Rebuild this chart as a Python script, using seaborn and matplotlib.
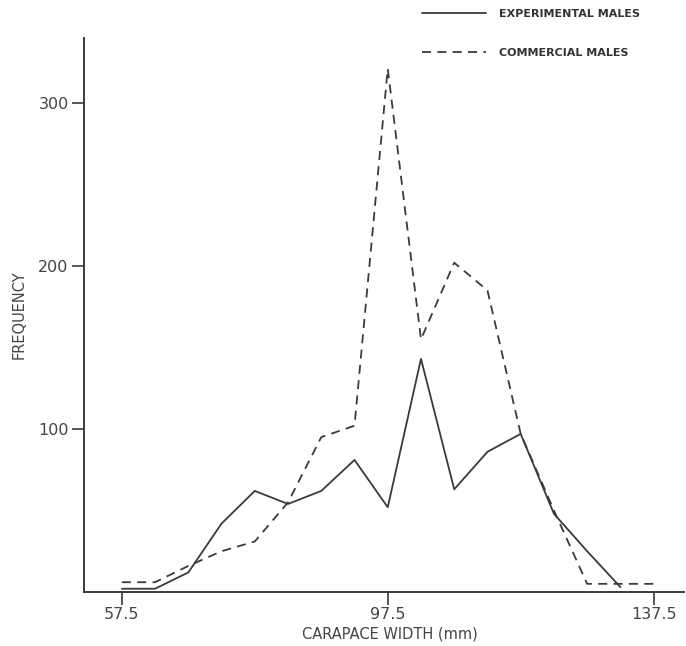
import numpy as np
import pandas as pd
import matplotlib
matplotlib.use('Agg')
import matplotlib.pyplot as plt
import seaborn as sns

# carapace width class midpoints (mm)
widths_exp = [57.5, 62.5, 67.5, 72.5, 77.5, 82.5, 87.5, 92.5, 97.5,
              102.5, 107.5, 112.5, 117.5, 122.5, 127.5, 132.5]
widths_com = [57.5, 62.5, 67.5, 72.5, 77.5, 82.5, 87.5, 92.5, 97.5,
              102.5, 107.5, 112.5, 117.5, 122.5, 127.5, 132.5, 137.5]

# frequencies
freq_exp = [2, 2, 12, 42, 62, 54, 62, 81, 52, 143, 63, 86, 97, 48, 25, 3]
freq_com = [6, 6, 16, 25, 31, 55, 95, 102, 321, 155, 202, 185, 97, 50, 5, 5, 5]

labels = ['EXPERIMENTAL MALES', 'COMMERCIAL MALES']
x_ticks = [57.5, 97.5, 137.5]
y_ticks = [100, 200, 300]

df = pd.concat([
    pd.DataFrame({'width': widths_exp, 'freq': freq_exp, 'group': labels[0]}),
    pd.DataFrame({'width': widths_com, 'freq': freq_com, 'group': labels[1]}),
])

sns.set_style('white')
plt.rcParams['font.family'] = ['DejaVu Sans']

ink = '#3a3a3a'
fig = plt.figure(figsize=(6.86, 6.46), dpi=100)
ax = fig.add_axes([0.1224, 0.0836, 0.875, 0.858])

sns.lineplot(data=df, x='width', y='freq', hue='group', style='group',
             palette={labels[0]: ink, labels[1]: ink},
             dashes={labels[0]: '', labels[1]: (5, 3.5)},
             linewidth=1.3, sort=False, estimator=None, ax=ax)

ax.set_xlim(51.8, 142.1)
ax.set_ylim(0, 340)
ax.set_xticks(x_ticks)
ax.set_xticklabels(['57.5', '97.5', '137.5'])
ax.set_yticks(y_ticks)
ax.set_yticklabels([str(t) for t in y_ticks])

for s in ['top', 'right']:
    ax.spines[s].set_visible(False)
for s in ['left', 'bottom']:
    ax.spines[s].set_color(ink)
    ax.spines[s].set_linewidth(1.4)

ax.tick_params(axis='both', direction='out', length=9, width=1.2,
               bottom=True, left=True,
               color=ink, labelcolor='#444444', labelsize=11.5, pad=2)

ax.set_xlabel('CARAPACE WIDTH (mm)', fontsize=10.5, color='#444444')
ax.set_ylabel('FREQUENCY', fontsize=10.5, color='#444444')
ax.xaxis.set_label_coords(0.51, -0.062)
ax.yaxis.set_label_coords(-0.095, 0.5)

handles, lbls = ax.get_legend_handles_labels()
leg = ax.legend(handles, lbls, loc='upper left', bbox_to_anchor=(0.6, 1.001),
                bbox_transform=fig.transFigure, frameon=False,
                handlelength=5.8, handletextpad=1.2, labelspacing=2.6,
                prop={'weight': 'bold', 'size': 8})
for t in leg.get_texts():
    t.set_color('#333333')

fig.savefig('out.png', dpi=100)
